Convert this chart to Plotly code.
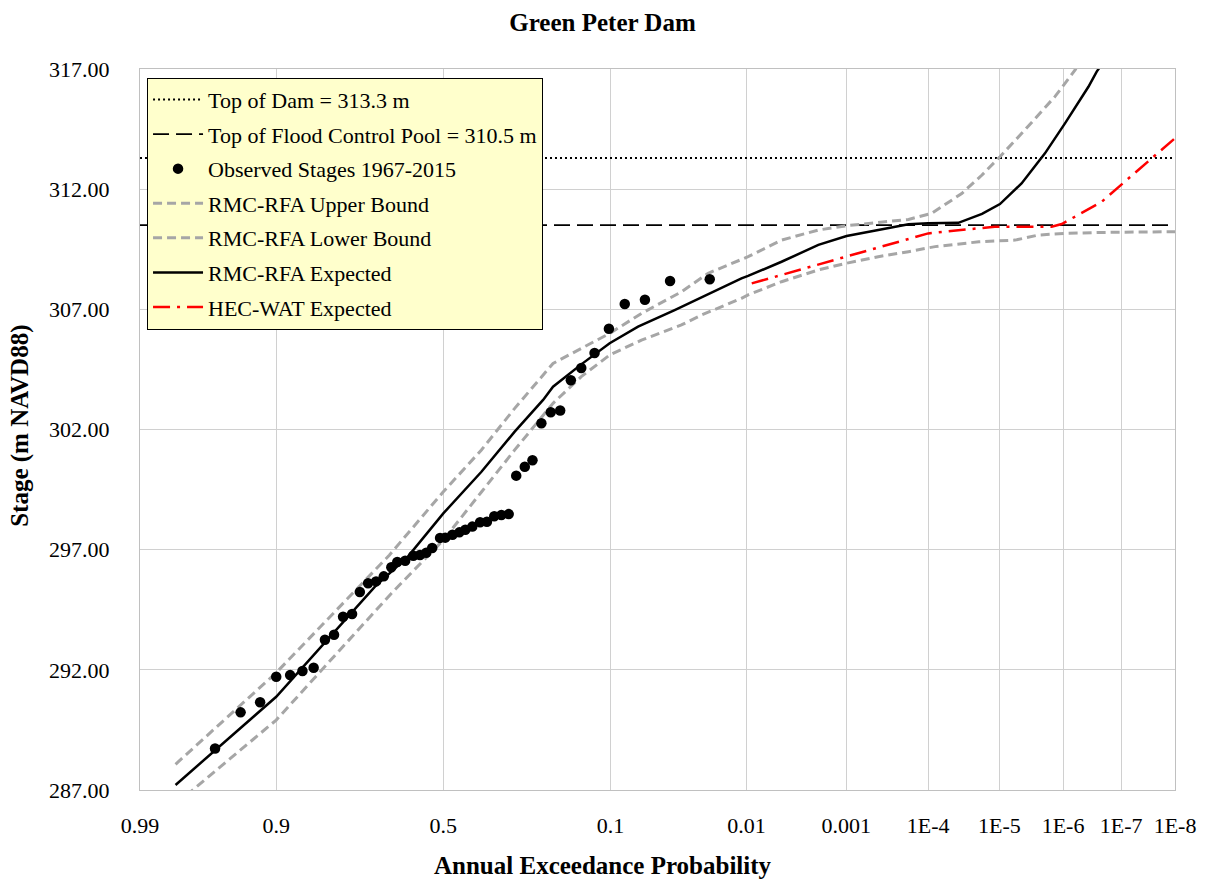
import plotly.graph_objects as go
from statistics import NormalDist

# ---------------- data ----------------
tick_probs = [0.99, 0.9, 0.5, 0.1, 0.01, 0.001, 1e-4, 1e-5, 1e-6, 1e-7, 1e-8]
tick_labels = ["0.99", "0.9", "0.5", "0.1", "0.01", "0.001", "1E-4", "1E-5", "1E-6", "1E-7", "1E-8"]
y_ticks = [287, 292, 297, 302, 307, 312, 317]

top_of_dam = 313.3
top_flood_pool = 310.5

obs_p = [0.960, 0.940, 0.920, 0.900, 0.880, 0.860, 0.840, 0.818, 0.799, 0.779,
         0.758, 0.739, 0.718, 0.697, 0.676, 0.655, 0.638, 0.615, 0.591, 0.571,
         0.552, 0.534, 0.510, 0.494, 0.472, 0.451, 0.433, 0.412, 0.389, 0.369,
         0.348, 0.328, 0.308, 0.288, 0.266, 0.247, 0.226, 0.205, 0.185, 0.164,
         0.145, 0.123, 0.102, 0.082, 0.061, 0.041, 0.0205]
obs_stage = [288.73, 290.23, 290.65, 291.71, 291.78, 291.95, 292.09, 293.25, 293.46, 294.21,
             294.32, 295.24, 295.60, 295.68, 295.89, 296.27, 296.49, 296.54, 296.75, 296.78,
             296.87, 297.07, 297.49, 297.50, 297.62, 297.72, 297.83, 297.96, 298.14, 298.16,
             298.39, 298.44, 298.48, 300.08, 300.45, 300.72, 302.26, 302.72, 302.79, 304.05,
             304.56, 305.18, 306.19, 307.22, 307.40, 308.18, 308.25]

exp_p = [0.98, 0.9, 0.70, 0.607, 0.5, 0.385, 0.292, 0.222, 0.200, 0.145, 0.101, 0.0676,
         0.038, 0.0239, 0.0111, 0.0097, 0.00474, 0.00201, 0.00099, 4.25e-4, 1.8e-4,
         1.0e-4, 3.9e-5, 1.8e-5, 9.8e-6, 4.6e-6, 1.97e-6, 9.3e-7, 3.75e-7, 2.7e-7, 2.2e-7]
exp_stage = [287.21, 290.88, 295.46, 296.71, 298.51, 300.24, 301.91, 303.23, 303.78, 304.71,
             305.59, 306.28, 306.97, 307.50, 308.29, 308.39, 308.98, 309.68, 310.05, 310.30,
             310.54, 310.58, 310.60, 310.97, 311.38, 312.24, 313.49, 314.74, 316.26, 316.89, 317.2]

up_p = [0.98, 0.9, 0.66, 0.5, 0.385, 0.292, 0.200, 0.151, 0.101, 0.0643, 0.0339, 0.0211,
        0.0111, 0.0097, 0.00474, 0.00201, 0.00099, 4.25e-4, 1.8e-4, 9.0e-5, 3.5e-5, 1.8e-5,
        9.8e-6, 4.1e-6, 1.36e-6, 6.3e-7, 5.3e-7]
up_stage = [288.07, 291.88, 296.78, 299.41, 301.15, 302.88, 304.75, 305.31, 306.00, 306.83,
            307.73, 308.50, 309.05, 309.19, 309.88, 310.30, 310.48, 310.60, 310.74, 310.99,
            311.82, 312.59, 313.35, 314.46, 315.85, 316.96, 317.3]

lo_p = [0.98, 0.9, 0.655, 0.5, 0.385, 0.292, 0.200, 0.145, 0.101, 0.0643, 0.0339, 0.0239,
        0.0111, 0.0097, 0.00474, 0.00201, 0.00099, 4.25e-4, 1.8e-4, 8.1e-5, 2.0e-5, 5.8e-6,
        2.5e-6, 9.3e-7, 2.2e-7, 1.0e-8]
lo_stage = [286.4, 289.91, 295.18, 297.40, 299.4, 301.15, 303.09, 304.20, 305.10, 305.72,
            306.35, 306.76, 307.46, 307.60, 308.15, 308.64, 308.92, 309.19, 309.40, 309.61,
            309.81, 309.88, 310.09, 310.16, 310.20, 310.23]

wat_p = [0.009, 0.001, 1.0e-4, 1.17e-5, 1.54e-6, 1.05e-6, 2.2e-7, 4.9e-8, 1.0e-8]
wat_stage = [308.08, 309.19, 310.16, 310.44, 310.44, 310.55, 311.48, 312.80, 314.12]

# ---------------- normal probability scale ----------------
ND = NormalDist()


def zs(ps):
    return [ND.inv_cdf(1 - p) for p in ps]


x_min = ND.inv_cdf(1 - tick_probs[0])
x_max = ND.inv_cdf(1 - tick_probs[-1])

FONT = "Liberation Serif, Times New Roman, serif"
GRAY = "#A6A6A6"

fig = go.Figure()

fig.add_trace(go.Scatter(
    x=[x_min, x_max], y=[top_of_dam, top_of_dam], mode="lines",
    name="Top of Dam = 313.3 m", legendgroup="a", legendrank=1,
    line=dict(color="black", width=2, dash="2px,3px")))
fig.add_trace(go.Scatter(
    x=[x_min, x_max], y=[top_flood_pool, top_flood_pool], mode="lines",
    name="Top of Flood Control Pool = 310.5 m", legendgroup="b", legendrank=2,
    line=dict(color="black", width=1.8, dash="16px,7px")))
fig.add_trace(go.Scatter(
    x=zs(up_p), y=up_stage, mode="lines", name="RMC-RFA Upper Bound",
    legendgroup="d", legendrank=4,
    line=dict(color=GRAY, width=3, dash="9px,5px")))
fig.add_trace(go.Scatter(
    x=zs(lo_p), y=lo_stage, mode="lines", name="RMC-RFA Lower Bound",
    legendgroup="e", legendrank=5,
    line=dict(color=GRAY, width=3, dash="9px,5px")))
fig.add_trace(go.Scatter(
    x=zs(exp_p), y=exp_stage, mode="lines", name="RMC-RFA Expected",
    legendgroup="f", legendrank=6,
    line=dict(color="black", width=2.5)))
fig.add_trace(go.Scatter(
    x=zs(wat_p), y=wat_stage, mode="lines", name="HEC-WAT Expected",
    legendgroup="g", legendrank=7,
    line=dict(color="red", width=2.5, dash="17px,7px,3px,7px")))
fig.add_trace(go.Scatter(
    x=zs(obs_p), y=obs_stage, mode="markers", name="Observed Stages 1967-2015",
    legendgroup="c", legendrank=3,
    marker=dict(color="black", size=10.5, symbol="circle")))

fig.update_layout(
    width=1205, height=879,
    margin=dict(l=140, r=30, t=69, b=89),
    paper_bgcolor="white", plot_bgcolor="white",
    font=dict(family=FONT, size=22, color="black"),
    title=dict(text="<b>Green Peter Dam</b>", x=0.5, xanchor="center",
               y=0.975, yanchor="middle", font=dict(family=FONT, size=25)),
    showlegend=True,
    legend=dict(
        x=0.0068, y=0.988, xanchor="left", yanchor="top",
        bgcolor="#FFFFCC", bordercolor="black", borderwidth=1,
        font=dict(family=FONT, size=22, color="black"),
        tracegroupgap=3, itemwidth=50,
    ),
    annotations=[
        dict(text="<b>Annual Exceedance Probability</b>", xref="paper", yref="paper",
             x=0.4469, y=-0.1054, xanchor="center", yanchor="middle", showarrow=False,
             font=dict(family=FONT, size=25)),
        dict(text="<b>Stage (m NAVD88)</b>", xref="paper", yref="paper",
             x=-0.116, y=0.505, xanchor="center", yanchor="middle", showarrow=False,
             textangle=-90, font=dict(family=FONT, size=25)),
    ],
)

fig.update_xaxes(
    range=[x_min, x_max], tickvals=zs(tick_probs), ticktext=tick_labels,
    showgrid=True, gridcolor="#D0D0D0", gridwidth=1,
    showline=True, linecolor="#C0C0C0", linewidth=1, mirror=True,
    zeroline=False, ticks="", ticklabelstandoff=16, automargin=False,
    tickfont=dict(family=FONT, size=22),
)
fig.update_yaxes(
    range=[287, 317], tickvals=y_ticks, ticktext=[f"{v:.2f}" for v in y_ticks],
    showgrid=True, gridcolor="#D0D0D0", gridwidth=1,
    showline=True, linecolor="#C0C0C0", linewidth=1, mirror=True,
    zeroline=False, ticks="", ticklabelstandoff=25, automargin=False,
    tickfont=dict(family=FONT, size=22),
)

fig.write_html("out.html")
